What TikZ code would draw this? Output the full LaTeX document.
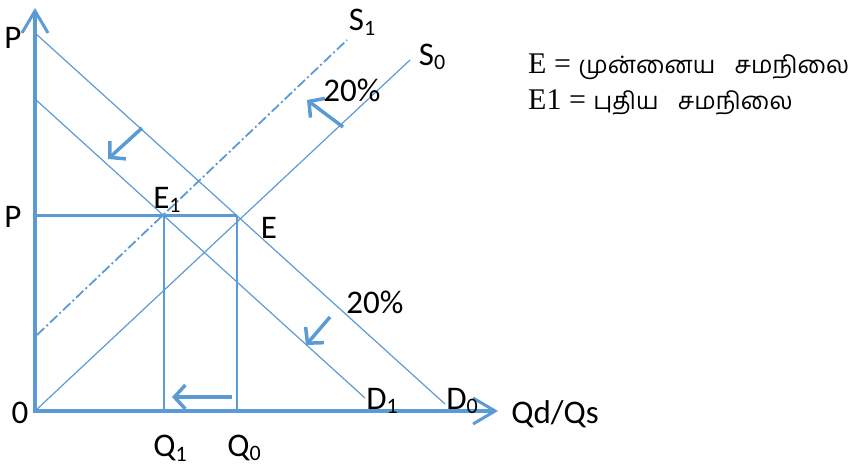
\documentclass[tikz,border=0pt]{standalone}
\usepackage{fontspec}
\setmainfont{Carlito}
\newfontfamily\serifE{Liberation Serif}
\newfontfamily\tamil[Script=Tamil]{Hind Madurai}
\usetikzlibrary{arrows.meta}
\definecolor{cblue}{RGB}{91,155,213}
\newcommand\sbs[1]{\raisebox{-0.3ex}{\fontsize{22}{22}\selectfont #1}}
\tikzset{
  curve/.style={draw=cblue, line width=1.2pt},
  axisline/.style={draw=cblue, line width=4pt, -{Straight Barb[length=22pt,width=26pt,line width=3pt]}},
  shiftarrow/.style={draw=cblue, line width=3.5pt, -{Straight Barb[length=11pt,width=24pt,line width=3.5pt]}},
  lbl/.style={font=\fontsize{33}{34}\selectfont, text=black, inner sep=0pt},
  legend/.style={font=\fontsize{30}{32}\selectfont, text=black, inner sep=0pt, anchor=base west}
}
\begin{document}
\begin{tikzpicture}[x=1pt,y=-1pt]
\useasboundingbox (0,0) rectangle (854,470);
% key points
\coordinate (O) at (35,411);
\coordinate (Ytop) at (35,8);
\coordinate (Xend) at (498,411);
\coordinate (E) at (237,216);
\coordinate (E1) at (164,216);
\coordinate (Q1) at (164,411);
\coordinate (Q0) at (237,411);
\coordinate (Pm) at (35,216);
\coordinate (D0a) at (35,33);
\coordinate (D0b) at (445,404);
\coordinate (D1a) at (35,99);
\coordinate (D1b) at (365,398);
\coordinate (S0b) at (410,60);
\coordinate (S1a) at (37,335);
\coordinate (S1b) at (347,40);
% curves
\draw[curve] (D0a) -- (D0b);
\draw[curve] (D1a) -- (D1b);
\draw[curve] (O) -- (S0b);
\draw[curve, line width=1.8pt, dash pattern=on 10pt off 3pt on 2pt off 3pt] (S1a) -- (S1b);
\draw[curve] (E1) -- (Q1);
\draw[curve] (E) -- (Q0);
\draw[draw=cblue, line width=3pt] (Pm) -- (E);
% axes
\draw[axisline] (35,413) -- (Ytop);
\draw[axisline] (33,411) -- (Xend);
% shift arrows
\coordinate (a1s) at (142,128); \coordinate (a1e) at (108,159);
\coordinate (a2s) at (330,317); \coordinate (a2e) at (306,345);
\coordinate (a3s) at (343,127); \coordinate (a3e) at (307,100);
\coordinate (a4s) at (232,397); \coordinate (a4e) at (172,397);
\draw[shiftarrow] (a1s) -- (a1e);
\draw[shiftarrow] (a2s) -- (a2e);
\draw[shiftarrow] (a3s) -- (a3e);
\draw[shiftarrow] (a4s) -- (a4e);
% labels
\node[lbl] (lP1) at (13,38) {P};
\node[lbl] (lP2) at (13,217) {P};
\node[lbl] (lO) at (20,413) {0};
\node[lbl] (lQ1) at (170,448) {Q\sbs{1}};
\node[lbl] (lQ0) at (244,448) {Q\sbs{0}};
\node[lbl] (lE1) at (167,200) {E\sbs{1}};
\node[lbl] (lE) at (269,228) {E};
\node[lbl] (lS1) at (362,22) {S\sbs{1}};
\node[lbl] (lS0) at (432,57) {S\sbs{0}};
\node[lbl] (lp1) at (352,90) {20\%};
\node[lbl] (lp2) at (375,302) {20\%};
\node[lbl] (lD1) at (382,401) {D\sbs{1}};
\node[lbl] (lD0) at (462,401) {D\sbs{0}};
\node[lbl] (lQ) at (555,414) {Qd/Qs};
% legend
\node[legend] (leg1) at (528,74) {{\serifE E = }{\tamil\fontsize{24}{30}\selectfont முன்னைய\hspace{0.8em}சமநிலை}};
\node[legend] (leg2) at (528,110) {{\serifE E1 = }{\tamil\fontsize{24}{30}\selectfont புதிய\hspace{0.8em}சமநிலை}};
\end{tikzpicture}
\end{document}
